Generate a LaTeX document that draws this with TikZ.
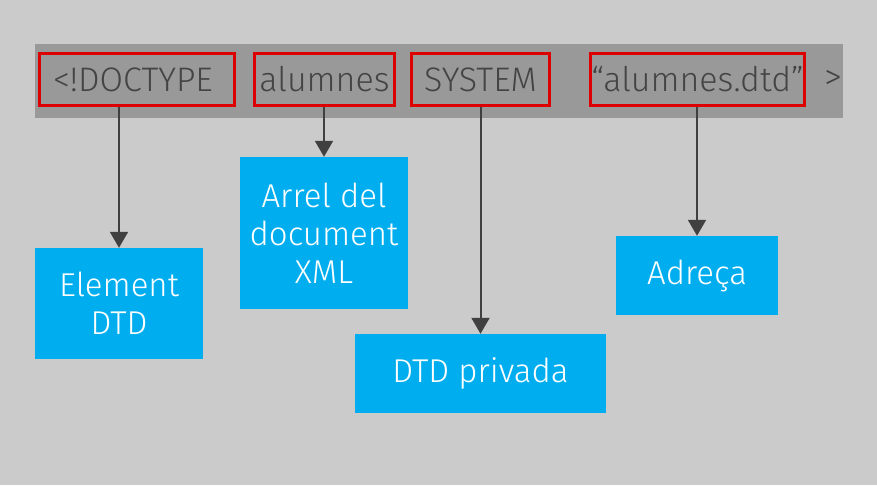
\documentclass[tikz,border=0pt]{standalone}
\usepackage{fontspec}
\setmainfont{Fira Sans Light}
\usetikzlibrary{arrows.meta}
\definecolor{bgc}{HTML}{CBCBCB}
\definecolor{barc}{HTML}{999999}
\definecolor{redc}{HTML}{DD0000}
\definecolor{bluec}{HTML}{00AEEF}
\definecolor{txtc}{HTML}{444444}
\definecolor{arrc}{HTML}{404040}
\tikzset{
  redbox/.style={draw=redc, line width=3pt, inner sep=0pt, text=txtc, font=\fontsize{34}{40}\selectfont, minimum height=52pt},
  bluebox/.style={fill=bluec, inner sep=0pt, text=white, align=center, font=\fontsize{33}{38}\selectfont},
  arr/.style={draw=arrc, line width=2pt, -{Triangle[length=16pt,width=18pt]}}
}
\begin{document}
\begin{tikzpicture}[x=1pt,y=-1pt]
\fill[bgc] (0,0) rectangle (877,485);
\useasboundingbox (0,0) rectangle (877,485);
\fill[barc] (35,44) rectangle (843,118);
\node[redbox, minimum width=195pt] (doc) at (137,79.5) {\hspace*{-8pt}<!DOCTYPE};
\node[redbox, minimum width=140pt] (alu) at (324.5,79.5) {alumnes};
\node[redbox, minimum width=138pt] (sys) at (480.5,79.5) {SYSTEM};
\node[redbox, minimum width=214pt] (dtd) at (697.5,79.5) {“alumnes.dtd”};
\node[text=txtc, inner sep=0pt, font=\fontsize{36}{40}\selectfont] (gt) at (833,79.5) {>};
\node[bluebox, minimum width=168pt, minimum height=111pt] (elem) at (119,303.5) {Element\\DTD};
\node[bluebox, minimum width=168pt, minimum height=152pt] (arrel) at (324,233) {Arrel del\\document\\XML};
\node[bluebox, minimum width=251pt, minimum height=79pt] (priv) at (480.5,373.5) {DTD privada};
\node[bluebox, minimum width=162pt, minimum height=79pt] (adr) at (697,275.5) {Adreça};
\draw[arr] (doc.south -| elem.north) -- (elem.north);
\draw[arr] (alu.south -| arrel.north) -- (arrel.north);
\draw[arr] (sys.south -| priv.north) -- (priv.north);
\draw[arr] (dtd.south -| adr.north) -- (adr.north);
\end{tikzpicture}
\end{document}
